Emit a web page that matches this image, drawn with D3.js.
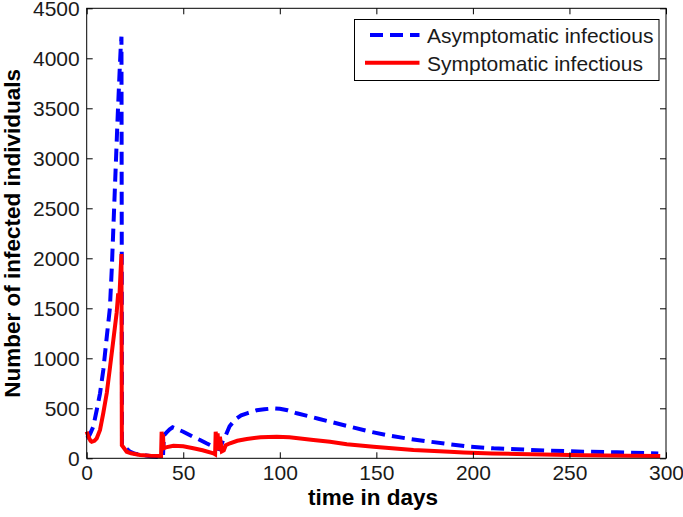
<!DOCTYPE html>
<html>
<head>
<meta charset="utf-8">
<script src="https://cdn.jsdelivr.net/npm/d3@7"></script>
<style>
  html, body { margin: 0; padding: 0; background: #fff; }
  svg { display: block; }
</style>
</head>
<body>
<svg id="chart" width="683" height="517"></svg>
<script>
// ---- data ----
const xTicks = [0, 50, 100, 150, 200, 250, 300];
const yTicks = [0, 500, 1000, 1500, 2000, 2500, 3000, 3500, 4000, 4500];
const seriesNames = ["Asymptomatic infectious", "Symptomatic infectious"];

const asymDays = [0, 1, 2, 3.4, 5.2, 6.9, 8.6, 10.4, 12, 13, 14, 15, 16, 17, 17.6, 18,
  18.3, 19, 20.5, 22.4, 25, 29.3, 33, 38, 39.5, 40, 41.4, 43, 44.5, 47, 50, 55, 58.7, 62, 65.6, 67, 69,
  70, 71, 72, 74, 77, 80, 83, 88, 92, 96.7, 100, 104, 108.8, 115, 120, 126, 136.4, 146.8, 157.1,
  167.5, 177.9, 188.2, 198.6, 210.7, 222.8, 240, 257.3, 274.6, 291.9, 296];
const asymVals = [200, 215, 255, 316, 483, 650, 883, 1216, 1500, 1900, 2400, 2900, 3400, 3850, 4100, 4216,
  130, 133, 100, 66, 45, 33, 20, 10, 15, 230, 260, 290, 310, 290, 266, 216, 183, 150, 116, 100, 90,
  150, 200, 230, 320, 390, 430, 450, 480, 490, 500, 495, 480, 450, 420, 395, 366, 316, 266, 226,
  193, 166, 140, 116, 100, 90, 76, 66, 60, 50, 48];

const symDays = [0, 1, 2, 2.6, 4, 5.2, 6.9, 8.6, 10.4, 12.1, 13.8, 15.5, 16.3, 16.8, 17.5, 18,
  18.2, 19, 20.7, 23, 27.6, 33, 38, 38.5, 38.8, 39.2, 39.5, 39.8, 41, 44.9, 50, 55.2, 60, 65.6, 66.5,
  66.8, 67.3, 67.8, 68.3, 69, 70, 71, 72, 74.2, 78, 82.9, 90, 98.4, 105, 117.4, 126, 134.7, 148.5,
  169.2, 188, 195.1, 210, 222.8, 257, 280, 297];
const symVals = [266, 210, 175, 166, 175, 200, 283, 453, 653, 916, 1183, 1453, 1650, 1560, 1850, 2043,
  130, 110, 66, 50, 33, 25, 23, 23, 266, 150, 240, 100, 110, 126, 120, 100, 80, 50, 40,
  266, 120, 250, 80, 216, 70, 80, 130, 150, 175, 193, 210, 216, 210, 183, 166, 140, 116,
  83, 65, 58, 48, 43, 30, 25, 23];

// ---- layout ----
const svg = d3.select("#chart");
const L = 86.7, R = 666, T = 8.3, B = 458.3;
const x = d3.scaleLinear().domain([0, 300]).range([L, R]);
const y = d3.scaleLinear().domain([0, 4500]).range([B, T]);
const font = "'Liberation Sans', Arial, sans-serif";

// lines
const line = d3.line().x(d => x(d[0])).y(d => y(d[1]));
const asym = asymDays.map((d, i) => [d, asymVals[i]]);
const sym = symDays.map((d, i) => [d, symVals[i]]);

svg.append("path").datum(asym)
  .attr("d", line).attr("fill", "none").attr("stroke", "#0000ff")
  .attr("stroke-width", 4).attr("stroke-dasharray", "13,7");
svg.append("path").datum(sym)
  .attr("d", line).attr("fill", "none").attr("stroke", "#ff0000")
  .attr("stroke-width", 4).attr("stroke-linejoin", "miter");

// axes
function styleAxis(g) {
  g.select(".domain").remove();
  g.selectAll(".tick line").attr("stroke", "#000").attr("stroke-width", 1);
  g.selectAll(".tick text").attr("font-family", font).attr("font-size", 21).attr("fill", "#1a1a1a");
}
svg.append("g").attr("transform", `translate(0,${B})`)
  .call(d3.axisBottom(x).tickValues(xTicks).tickSize(-6).tickPadding(7).tickFormat(d3.format("d")))
  .call(styleAxis);
svg.append("g").attr("transform", `translate(0,${T})`)
  .call(d3.axisTop(x).tickValues(xTicks).tickSize(-6).tickFormat(""))
  .call(styleAxis);
svg.append("g").attr("transform", `translate(${L},0)`)
  .call(d3.axisLeft(y).tickValues(yTicks).tickSize(-6).tickPadding(7).tickFormat(d3.format("d")))
  .call(styleAxis);
svg.append("g").attr("transform", `translate(${R},0)`)
  .call(d3.axisRight(y).tickValues(yTicks).tickSize(-6).tickFormat(""))
  .call(styleAxis);

// frame
svg.append("rect").attr("x", L).attr("y", T).attr("width", R - L).attr("height", B - T)
  .attr("fill", "none").attr("stroke", "#000").attr("stroke-width", 1);

// axis labels
svg.append("text").attr("x", 373).attr("y", 505)
  .attr("text-anchor", "middle").attr("font-family", font).attr("font-size", 22.5)
  .attr("font-weight", "bold").text("time in days");
svg.append("text").attr("transform", `translate(20,${(T + B) / 2}) rotate(-90)`)
  .attr("text-anchor", "middle").attr("font-family", font).attr("font-size", 22.5)
  .attr("font-weight", "bold").text("Number of infected individuals");

// legend
const lg = svg.append("g");
lg.append("rect").attr("x", 354.5).attr("y", 19.5).attr("width", 304.5).attr("height", 61)
  .attr("fill", "#fff").attr("stroke", "#000").attr("stroke-width", 1);
const legendItems = [
  { name: seriesNames[0], color: "#0000ff", dash: "13,7", x1: 370, y: 35, ty: 42.5 },
  { name: seriesNames[1], color: "#ff0000", dash: null, x1: 365, y: 62.7, ty: 70.5 }
];
legendItems.forEach(it => {
  lg.append("line").attr("x1", it.x1).attr("x2", 419.5).attr("y1", it.y).attr("y2", it.y)
    .attr("stroke", it.color).attr("stroke-width", 4)
    .attr("stroke-dasharray", it.dash);
  lg.append("text").attr("x", 427).attr("y", it.ty)
    .attr("font-family", font).attr("font-size", 21).attr("fill", "#1a1a1a").text(it.name);
});
</script>
</body>
</html>
